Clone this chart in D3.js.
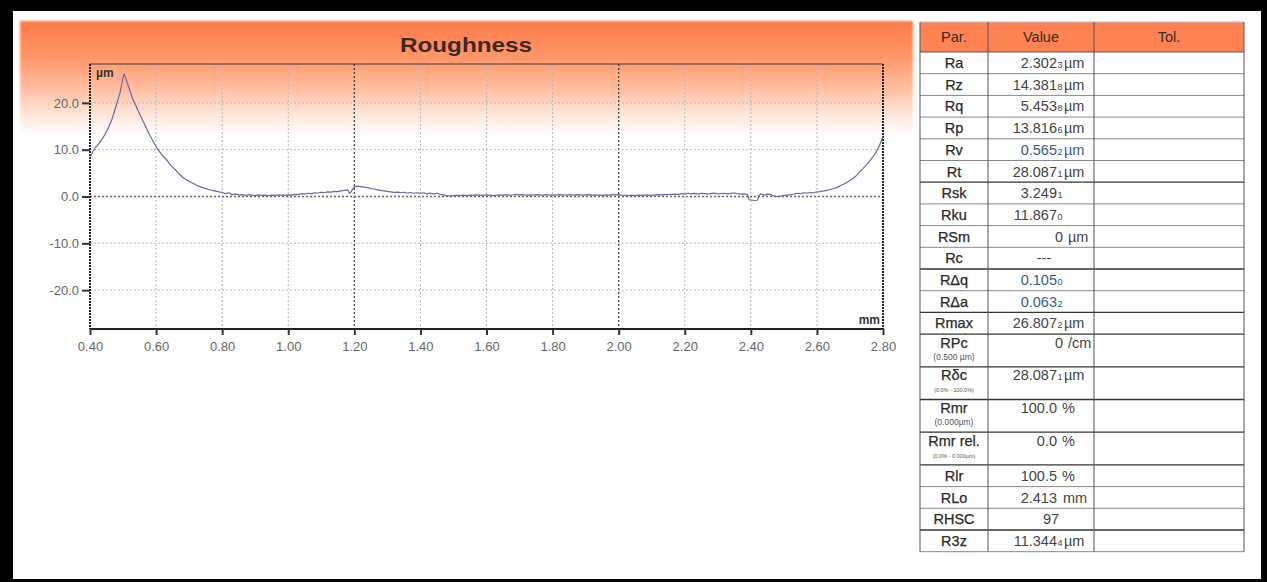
<!DOCTYPE html>
<html>
<head>
<meta charset="utf-8">
<script src="https://cdn.jsdelivr.net/npm/d3@7/dist/d3.min.js"></script>
<style>
  html, body { margin: 0; padding: 0; background: #000; }
  svg { display: block; font-family: "Liberation Sans", Arial, sans-serif; }
</style>
</head>
<body>
<svg id="chart" width="1267" height="582"></svg>
<script>
// ---------------- DATA ----------------
const chartTitle = "Roughness";
const xTickValues = [0.40, 0.60, 0.80, 1.00, 1.20, 1.40, 1.60, 1.80, 2.00, 2.20, 2.40, 2.60, 2.80];
const yTickValues = [-20, -10, 0, 10, 20];
const darkGridX = [1.20, 2.00];
const xUnit = "mm";
const yUnit = "µm";

// profile: position along x (mm)
const profileX = [
  0.400, 0.403, 0.415, 0.425, 0.435, 0.445, 0.455, 0.466, 0.473, 0.480, 0.486, 0.491, 0.495, 0.499, 0.503,
  0.507, 0.512, 0.520, 0.530, 0.545, 0.560, 0.580, 0.602, 0.615, 0.632, 0.645, 0.660, 0.670, 0.682, 0.695,
  0.710, 0.720, 0.733, 0.745, 0.760, 0.770, 0.783, 0.790,
  0.80, 0.81, 0.82, 0.83, 0.84, 0.85, 0.86, 0.87, 0.88, 0.89, 0.90, 0.91, 0.92, 0.93, 0.94, 0.95, 0.96, 0.97, 0.98, 0.99,
  1.00, 1.01, 1.02, 1.03, 1.04, 1.05, 1.06, 1.07, 1.08, 1.09, 1.10, 1.11, 1.12, 1.13, 1.14, 1.15, 1.16, 1.17, 1.18, 1.185, 1.19,
  1.20, 1.21, 1.22, 1.23, 1.24, 1.25, 1.26, 1.27, 1.28, 1.29, 1.30, 1.31, 1.32, 1.33, 1.34, 1.35, 1.36, 1.37, 1.38, 1.39,
  1.40, 1.41, 1.42, 1.43, 1.44, 1.45, 1.46, 1.47, 1.48, 1.49, 1.50, 1.51, 1.52, 1.53, 1.54, 1.55, 1.56, 1.57, 1.58, 1.59,
  1.60, 1.61, 1.62, 1.63, 1.64, 1.65, 1.66, 1.67, 1.68, 1.69, 1.70, 1.71, 1.72, 1.73, 1.74, 1.75, 1.76, 1.77, 1.78, 1.79,
  1.80, 1.81, 1.82, 1.83, 1.84, 1.85, 1.86, 1.87, 1.88, 1.89, 1.90, 1.91, 1.92, 1.93, 1.94, 1.95, 1.96, 1.97, 1.98, 1.99,
  2.00, 2.01, 2.02, 2.03, 2.04, 2.05, 2.06, 2.07, 2.08, 2.09, 2.10, 2.11, 2.12, 2.13, 2.14, 2.15, 2.16, 2.17, 2.18, 2.19,
  2.20, 2.21, 2.22, 2.23, 2.24, 2.25, 2.26, 2.27, 2.28, 2.29, 2.30, 2.31, 2.32, 2.33, 2.34, 2.35, 2.36, 2.37, 2.38, 2.39,
  2.395, 2.41, 2.42, 2.425, 2.43, 2.44, 2.45, 2.46, 2.47, 2.48, 2.49,
  2.50, 2.51, 2.52, 2.53, 2.54, 2.55, 2.56, 2.57, 2.58, 2.59, 2.60, 2.61, 2.62, 2.63, 2.64, 2.65, 2.66, 2.67, 2.68, 2.69,
  2.70, 2.71, 2.72, 2.73, 2.74, 2.75, 2.76, 2.77, 2.78, 2.79, 2.80
];
// profile: height (µm)
const profileY = [
  8.3, 8.8, 10.4, 11.1, 12.1, 13.2, 14.6, 16.4, 18.0, 19.6, 21.0, 22.2, 23.6, 25.0, 26.2,
  25.6, 24.4, 22.8, 20.7, 18.4, 16.2, 13.2, 10.4, 9.1, 7.8, 6.6, 5.6, 4.8, 4.0, 3.4,
  2.9, 2.5, 2.1, 1.8, 1.5, 1.3, 1.1, 1.0,
  0.9, 0.6, 0.8, 0.4, 0.55, 0.35, 0.4, 0.25, 0.4, 0.3, 0.2, 0.35, 0.25, 0.3, 0.2, 0.3, 0.25, 0.35, 0.3, 0.25,
  0.35, 0.3, 0.45, 0.4, 0.6, 0.5, 0.7, 0.6, 0.8, 0.75, 0.9, 0.85, 1.0, 0.95, 1.1, 1.05, 1.2, 1.3, 1.4, 0.7, 1.0,
  2.1, 2.2, 2.1, 2.0, 1.9, 1.7, 1.6, 1.4, 1.3, 1.2, 1.1, 1.0, 0.9, 0.95, 0.85, 0.9, 0.75, 0.85, 0.7, 0.8,
  0.65, 0.8, 0.55, 0.75, 0.5, 0.7, 0.45, 0.35, 0.2, 0.15, 0.2, 0.25, 0.2, 0.3, 0.2, 0.3, 0.25, 0.35, 0.3, 0.25,
  0.35, 0.3, 0.2, 0.3, 0.35, 0.3, 0.4, 0.3, 0.35, 0.45, 0.35, 0.4, 0.3, 0.35, 0.3, 0.4, 0.35, 0.3, 0.4, 0.3,
  0.35, 0.3, 0.4, 0.35, 0.3, 0.4, 0.3, 0.35, 0.4, 0.3, 0.35, 0.4, 0.3, 0.35, 0.3, 0.25, 0.35, 0.3, 0.4, 0.35,
  0.4, 0.3, 0.25, 0.2, 0.3, 0.2, 0.3, 0.25, 0.35, 0.3, 0.25, 0.35, 0.4, 0.35, 0.45, 0.4, 0.45, 0.5, 0.45, 0.6,
  0.5, 0.7, 0.55, 0.65, 0.5, 0.7, 0.6, 0.5, 0.65, 0.7, 0.55, 0.6, 0.7, 0.55, 0.65, 0.75, 0.6, 0.5, 0.55, 0.4,
  -0.7, -0.85, -0.8, 0.2, 0.6, 0.3, 0.5, 0.4, 0.1, 0.0, 0.1,
  0.2, 0.3, 0.4, 0.5, 0.7, 0.6, 0.8, 0.75, 0.85, 0.8, 1.0, 1.05, 1.2, 1.3, 1.5, 1.7, 1.9, 2.3, 2.6, 3.0,
  3.4, 3.9, 4.5, 5.3, 6.0, 6.8, 7.6, 8.5, 9.6, 11.0, 12.8
];

// table
const tableHeaders = ["Par.", "Value", "Tol."];
const paramNames = ["Ra", "Rz", "Rq", "Rp", "Rv", "Rt", "Rsk", "Rku", "RSm", "Rc", "RΔq", "RΔa",
  "Rmax", "RPc", "Rδc", "Rmr", "Rmr rel.", "Rlr", "RLo", "RHSC", "R3z"];
const paramNotes = ["", "", "", "", "", "", "", "", "", "", "", "",
  "", "(0.500 µm)", "(0.0% - 100.0%)", "(0.000µm)", "(0.0% - 0.000µm)", "", "", "", ""];
const valueMain = ["2.302", "14.381", "5.453", "13.816", "0.565", "28.087", "3.249", "11.867", "0", "---", "0.105", "0.063",
  "26.807", "0", "28.087", "100.0", "0.0", "100.5", "2.413", "97", "11.344"];
const valueSub = ["3", "8", "8", "6", "2", "1", "1", "0", "", "", "0", "2",
  "2", "", "1", "", "", "", "", "", "4"];
const valueUnit = ["µm", "µm", "µm", "µm", "µm", "µm", "", "", "µm", "", "", "",
  "µm", "/cm", "µm", "%", "%", "%", "mm", "", "µm"];
const toleranceText = ["", "", "", "", "", "", "", "", "", "", "", "",
  "", "", "", "", "", "", "", "", ""];

// ---------------- DRAW ----------------
const svg = d3.select("#chart");
const W = 1267, H = 582;

// frame
svg.append("rect").attr("x", 0).attr("y", 0).attr("width", W).attr("height", H).attr("fill", "#000");
svg.append("rect").attr("x", 13).attr("y", 11).attr("width", 1248).attr("height", 568).attr("fill", "#fff");

const defs = svg.append("defs");
const grad = defs.append("linearGradient").attr("id", "hdrGrad")
  .attr("x1", 0).attr("y1", 0).attr("x2", 0).attr("y2", 1);
[[0, "#ff7a4b"], [0.3, "#ff9466"], [0.6, "#ffbfa3"], [0.82, "#ffe6db"], [1, "#ffffff"]]
  .forEach(([o, c]) => grad.append("stop").attr("offset", o).attr("stop-color", c));
const blur = defs.append("filter").attr("id", "soft").attr("x", "-5%").attr("y", "-5%").attr("width", "110%").attr("height", "110%");
blur.append("feGaussianBlur").attr("stdDeviation", 1.2);

svg.append("rect").attr("x", 20).attr("y", 21).attr("width", 893).attr("height", 114)
  .attr("fill", "url(#hdrGrad)").attr("filter", "url(#soft)");

// title
svg.append("text").attr("x", 466).attr("y", 52).attr("text-anchor", "middle")
  .attr("font-size", 21).attr("font-weight", "bold").attr("fill", "#3b2a22")
  .attr("textLength", 132).attr("lengthAdjust", "spacingAndGlyphs")
  .text(chartTitle);

// scales
const plot = { left: 90, right: 883, top: 64, bottom: 329 };
const x = d3.scaleLinear().domain([0.40, 2.80]).range([plot.left, plot.right]);
const y = d3.scaleLinear().domain([-28.3, 28.3]).range([plot.bottom, plot.top]);

const g = svg.append("g");

// grid
const isDark = d => darkGridX.some(v => Math.abs(v - d) < 1e-9);
g.selectAll("line.gx").data(xTickValues.slice(1, -1)).enter().append("line")
  .attr("x1", d => x(d)).attr("x2", d => x(d)).attr("y1", plot.top).attr("y2", plot.bottom)
  .attr("stroke", d => isDark(d) ? "#444" : "#b8b8b8")
  .attr("stroke-width", d => isDark(d) ? 1.3 : 1)
  .attr("stroke-dasharray", "2,2");
g.selectAll("line.gy").data(yTickValues).enter().append("line")
  .attr("x1", plot.left).attr("x2", plot.right).attr("y1", d => y(d)).attr("y2", d => y(d))
  .attr("stroke", d => d === 0 ? "#666" : "#b8b8b8")
  .attr("stroke-width", d => d === 0 ? 1.3 : 1)
  .attr("stroke-dasharray", "2,2");

// frame of plot
g.append("line").attr("x1", plot.left).attr("x2", plot.right).attr("y1", plot.top).attr("y2", plot.top)
  .attr("stroke", "#3a3a3a").attr("stroke-width", 1.2);
g.append("line").attr("x1", plot.right).attr("x2", plot.right).attr("y1", plot.top).attr("y2", plot.bottom)
  .attr("stroke", "#222").attr("stroke-width", 2).attr("stroke-dasharray", "2,1");

// axes
const yAxis = d3.axisLeft(y).tickValues(yTickValues).tickSize(8).tickPadding(3)
  .tickFormat(d => d.toFixed(1));
const yg = g.append("g").attr("transform", `translate(${plot.left},0)`).call(yAxis);
yg.select(".domain").attr("stroke", "#222").attr("stroke-width", 2).attr("stroke-dasharray", "2,1")
  .attr("d", `M0,${plot.top}V${plot.bottom}`);
yg.selectAll(".tick line").attr("stroke", "#333").attr("stroke-width", 2);
yg.selectAll(".tick text").attr("font-size", 13).attr("fill", "#666")
  .attr("font-family", "Liberation Sans, Arial, sans-serif");

const xAxis = d3.axisBottom(x).tickValues(xTickValues).tickSize(6).tickPadding(7)
  .tickFormat(d => d.toFixed(2));
const xg = g.append("g").attr("transform", `translate(0,${plot.bottom})`).call(xAxis);
xg.select(".domain").attr("stroke", "#222").attr("stroke-width", 2)
  .attr("d", `M${plot.left},0H${plot.right}`);
xg.selectAll(".tick line").attr("stroke", "#333").attr("stroke-width", 2);
xg.selectAll(".tick text").attr("font-size", 13).attr("fill", "#666")
  .attr("font-family", "Liberation Sans, Arial, sans-serif");

// unit labels
g.append("text").attr("x", plot.left + 6).attr("y", plot.top + 13).attr("font-size", 12)
  .attr("font-weight", "bold").attr("fill", "#333").text(yUnit);
g.append("text").attr("x", plot.right - 3).attr("y", plot.bottom - 5).attr("text-anchor", "end")
  .attr("font-size", 12).attr("font-weight", "bold").attr("fill", "#333").text(xUnit);

// profile line
const pts = profileX.map((v, i) => [v, profileY[i]]);
const line = d3.line().x(d => x(d[0])).y(d => y(d[1]));
g.append("path").datum(pts).attr("d", line).attr("fill", "none")
  .attr("stroke", "#6a6a9e").attr("stroke-width", 1.2).attr("stroke-linejoin", "round");

// ---------------- TABLE ----------------
const colEdges = [920, 988, 1094, 1244];
const headTop = 22, headBottom = 52;
const rowH = 21.7, tallH = 32.7;
const FS = 14.5;
const t = svg.append("g").attr("font-family", "Liberation Sans, Arial, sans-serif");

t.append("rect").attr("x", colEdges[0]).attr("y", headTop).attr("width", colEdges[3] - colEdges[0])
  .attr("height", headBottom - headTop).attr("fill", "#ff8352");
tableHeaders.forEach((h, i) => {
  t.append("text").attr("x", (colEdges[i] + colEdges[i + 1]) / 2).attr("y", headTop + 20)
    .attr("text-anchor", "middle").attr("font-size", 14.5).attr("fill", "#3a2a22").text(h);
});

const rowTops = [];
let yy = headBottom;
paramNames.forEach((p, i) => { rowTops.push(yy); yy += paramNotes[i] ? tallH : rowH; });
const tableBottom = yy;

const blueish = new Set(["Rv", "RΔq", "RΔa"]);
const darkAfter = new Set(["Rt", "Rc", "RΔa", "Rmax", "RPc", "Rδc", "Rmr", "Rmr rel.", "RHSC"]);

paramNames.forEach((p, i) => {
  const top = rowTops[i];
  const tall = !!paramNotes[i];
  const base = top + (tall ? 13.5 : 16);
  // label
  t.append("text").attr("x", (colEdges[0] + colEdges[1]) / 2).attr("y", base)
    .attr("text-anchor", "middle").attr("font-size", FS).attr("fill", "#2a2a2a")
    .attr("stroke", "#2a2a2a").attr("stroke-width", 0.25).text(p);
  if (tall) {
    t.append("text").attr("x", (colEdges[0] + colEdges[1]) / 2).attr("y", top + 25.5)
      .attr("text-anchor", "middle").attr("font-size", paramNotes[i].length > 12 ? 5.5 : 8.5)
      .attr("fill", "#555").text(paramNotes[i]);
  }
  // value
  const col = blueish.has(p) ? "#3e5a82" : "#444";
  const m = valueMain[i], s = valueSub[i], u = valueUnit[i];
  if (s) {
    t.append("text").attr("x", 1057).attr("y", base).attr("text-anchor", "end")
      .attr("font-size", FS).attr("fill", col).text(m);
    t.append("text").attr("x", 1057.5).attr("y", base).attr("font-size", 9).attr("fill", col).text(s);
    if (u) t.append("text").attr("x", 1064).attr("y", base).attr("font-size", FS).attr("fill", col).text(u);
  } else if (u) {
    const mEnd = m.length === 1 ? 1063 : 1057;
    t.append("text").attr("x", mEnd).attr("y", base).attr("text-anchor", "end")
      .attr("font-size", FS).attr("fill", col).text(m);
    t.append("text").attr("x", mEnd + (u === "mm" ? 6 : 5)).attr("y", base).attr("font-size", FS)
      .attr("fill", col).text(u);
  } else {
    t.append("text").attr("x", m === "---" ? 1044 : 1051).attr("y", base).attr("text-anchor", "middle")
      .attr("font-size", FS).attr("fill", col).text(m);
  }
  t.append("text").attr("x", colEdges[2] + 6).attr("y", base).attr("font-size", FS)
    .attr("fill", "#444").text(toleranceText[i]);
  // bottom line
  const yb = top + (tall ? tallH : rowH);
  t.append("line").attr("x1", colEdges[0]).attr("x2", colEdges[3]).attr("y1", yb).attr("y2", yb)
    .attr("stroke", darkAfter.has(p) ? "#333" : "#888").attr("stroke-width", darkAfter.has(p) ? 1.3 : 1);
});

// table borders
t.append("line").attr("x1", colEdges[0]).attr("x2", colEdges[3]).attr("y1", headBottom).attr("y2", headBottom)
  .attr("stroke", "#555");
t.append("line").attr("x1", colEdges[0]).attr("x2", colEdges[3]).attr("y1", headTop).attr("y2", headTop)
  .attr("stroke", "#bbb");
colEdges.forEach(cx => {
  t.append("line").attr("x1", cx).attr("x2", cx).attr("y1", headTop).attr("y2", tableBottom)
    .attr("stroke", "#555").attr("stroke-width", 1);
});
</script>
</body>
</html>
